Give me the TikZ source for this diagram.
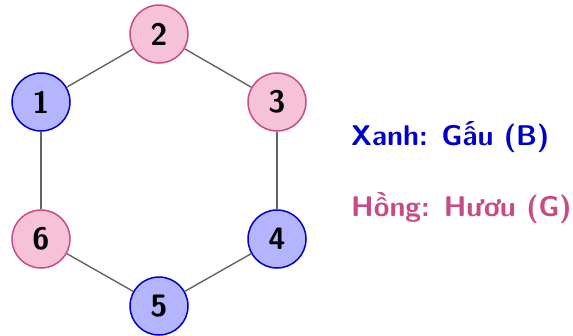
\documentclass[tikz,border=0pt]{standalone}
\usepackage{fontspec}
\definecolor{bluefill}{RGB}{180,180,255}
\definecolor{blueline}{RGB}{0,0,200}
\definecolor{pinkfill}{RGB}{246,194,216}
\definecolor{pinkline}{RGB}{200,75,135}
\definecolor{edgegray}{RGB}{100,100,100}
\begin{document}
\begin{tikzpicture}[x=1pt,y=-1pt,
  vertex/.style={circle,line width=1.5pt,minimum size=58pt,inner sep=0pt,
    font=\fontsize{31}{33}\selectfont\sffamily\bfseries},
  bluev/.style={vertex,fill=bluefill,draw=blueline},
  pinkv/.style={vertex,fill=pinkfill,draw=pinkline},
  edge/.style={draw=edgegray,line width=1.4pt},
  legend/.style={anchor=base west,inner sep=0pt,font=\fontsize{28.5}{32}\selectfont\sffamily\bfseries}]
\useasboundingbox (0,0) rectangle (573,335);
\node[pinkv] (v2) at (159,34) {2};
\node[bluev] (v1) at (41,102) {1};
\node[pinkv] (v3) at (277,102) {3};
\node[pinkv] (v6) at (41,239) {6};
\node[bluev] (v4) at (277,239) {4};
\node[bluev] (v5) at (159,306) {5};
\draw[edge] (v1) -- (v2);
\draw[edge] (v2) -- (v3);
\draw[edge] (v3) -- (v4);
\draw[edge] (v4) -- (v5);
\draw[edge] (v5) -- (v6);
\draw[edge] (v6) -- (v1);
\node[legend,text=blueline] (lb) at (351,145) {Xanh: Gấu (B)};
\node[legend,text=pinkline] (lg) at (351,216) {Hồng: Hươu (G)};
\end{tikzpicture}
\end{document}
